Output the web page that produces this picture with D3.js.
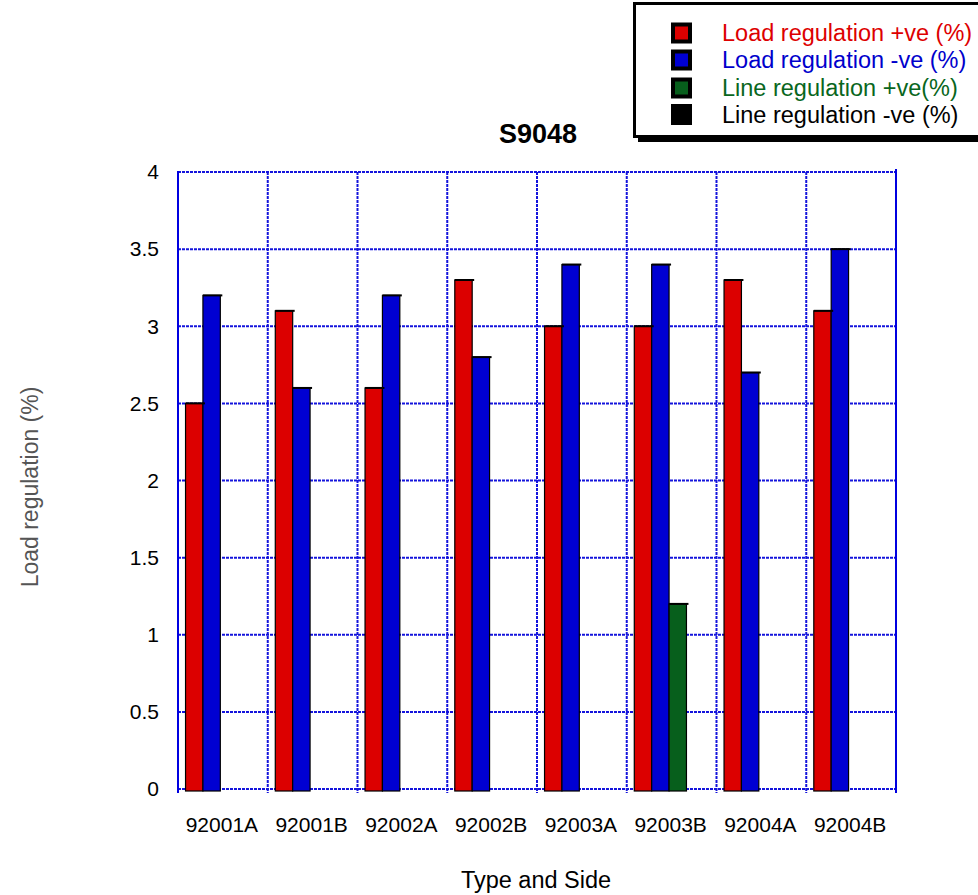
<!DOCTYPE html>
<html>
<head>
<meta charset="utf-8">
<script src="https://cdn.jsdelivr.net/npm/d3@7"></script>
<style>
  html, body { margin: 0; padding: 0; background: #fff; }
  svg { display: block; font-family: Arial, "Liberation Sans", sans-serif; }
</style>
</head>
<body>
<svg id="chart" width="978" height="895"></svg>
<script>
// ---- data ----
const categories = ["92001A", "92001B", "92002A", "92002B", "92003A", "92003B", "92004A", "92004B"];
const seriesNames = ["Load regulation +ve (%)", "Load regulation -ve (%)", "Line regulation +ve(%)", "Line regulation -ve (%)"];
const loadPos = [2.5, 3.1, 2.6, 3.3, 3.0, 3.0, 3.3, 3.1];
const loadNeg = [3.2, 2.6, 3.2, 2.8, 3.4, 3.4, 2.7, 3.5];
const linePos = [0, 0, 0, 0, 0, 1.2, 0, 0];
const lineNeg = [0, 0, 0, 0, 0, 0, 0, 0];
const yTicks = [0, 0.5, 1, 1.5, 2, 2.5, 3, 3.5, 4];
const yTickLabels = ["0", "0.5", "1", "1.5", "2", "2.5", "3", "3.5", "4"];
const barColors = ["#dc0000", "#0000d2", "#075f1c", "#000000"];
const textColors = ["#dd0000", "#0000cc", "#086620", "#000000"];
const chartTitle = "S9048";
const xTitle = "Type and Side";
const yTitle = "Load regulation (%)";

const series = [loadPos, loadNeg, linePos, lineNeg];

(function () {
// ---- layout ----
const svg = d3.select("#chart");
const pl = 178, pr = 896, pt = 172, pb = 789;

const x0 = d3.scaleBand().domain(categories).range([pl, pr]).padding(0);
const bw = x0.bandwidth();
const x1 = d3.scaleBand().domain(d3.range(series.length)).range([bw * 0.084, bw * 0.084 + bw * 0.775]).padding(0);
const y = d3.scaleLinear().domain([0, 4]).range([pb, pt]);

const gridColor = "#1414dc";

// horizontal gridlines
svg.append("g").selectAll("line").data(yTicks).join("line")
  .attr("x1", pl).attr("x2", pr + 2)
  .attr("y1", d => y(d)).attr("y2", d => y(d))
  .attr("stroke", gridColor).attr("stroke-width", 2)
  .attr("stroke-dasharray", "3,1");

// vertical gridlines
const vx = categories.map(c => x0(c));
svg.append("g").selectAll("line").data(vx.slice(1)).join("line")
  .attr("x1", d => d).attr("x2", d => d)
  .attr("y1", pt).attr("y2", pb + 4)
  .attr("stroke", gridColor).attr("stroke-width", 2)
  .attr("stroke-dasharray", "3,1");

// left and right frame
svg.append("line").attr("x1", pl).attr("x2", pl).attr("y1", pt - 1).attr("y2", pb + 4)
  .attr("stroke", "#0000e0").attr("stroke-width", 2);
svg.append("line").attr("x1", pr).attr("x2", pr).attr("y1", pt - 3).attr("y2", pb + 4)
  .attr("stroke", "#0000e0").attr("stroke-width", 2);

// bars
const barData = [];
categories.forEach((c, i) => {
  series.forEach((s, k) => {
    if (s[i] > 0) barData.push({ c, k, v: s[i] });
  });
});
const bars = svg.append("g");
bars.selectAll("rect").data(barData).join("rect")
  .attr("x", d => x0(d.c) + x1(d.k))
  .attr("y", d => y(d.v))
  .attr("width", x1.bandwidth())
  .attr("height", d => y(0) - y(d.v) + 2)
  .attr("fill", d => barColors[d.k])
  .attr("stroke", "#000").attr("stroke-width", 1.2);
bars.selectAll("line").data(barData).join("line")
  .attr("x1", d => x0(d.c) + x1(d.k))
  .attr("x2", d => x0(d.c) + x1(d.k) + x1.bandwidth() + 2)
  .attr("y1", d => y(d.v)).attr("y2", d => y(d.v))
  .attr("stroke", "#000").attr("stroke-width", 2);

// y tick labels
svg.append("g").selectAll("text").data(yTicks).join("text")
  .attr("x", 159).attr("y", d => y(d))
  .attr("dy", "0.35em")
  .attr("text-anchor", "end")
  .attr("font-size", 21)
  .attr("fill", "#000")
  .text((d, i) => yTickLabels[i]);

// x tick labels
svg.append("g").selectAll("text").data(categories).join("text")
  .attr("x", d => x0(d) + bw / 2 - 1)
  .attr("y", 832)
  .attr("text-anchor", "middle")
  .attr("font-size", 21)
  .attr("fill", "#000")
  .text(d => d);

// titles
svg.append("text").attr("x", 538).attr("y", 143).attr("text-anchor", "middle")
  .attr("font-size", 27).attr("font-weight", "bold").text(chartTitle);
svg.append("text").attr("x", 536).attr("y", 888).attr("text-anchor", "middle")
  .attr("font-size", 23.5).text(xTitle);
svg.append("text").attr("transform", "translate(38,487) rotate(-90)")
  .attr("text-anchor", "middle").attr("font-size", 23).attr("fill", "#555")
  .text(yTitle);

// legend
const lg = svg.append("g");
lg.append("rect").attr("x", 638).attr("y", 8).attr("width", 400).attr("height", 134).attr("fill", "#000");
lg.append("rect").attr("x", 634.5).attr("y", 3.5).attr("width", 400).attr("height", 133)
  .attr("fill", "#fff").attr("stroke", "#000").attr("stroke-width", 3);
const rowY = [33, 60, 88, 114.5];
seriesNames.forEach((name, k) => {
  lg.append("rect").attr("x", 671).attr("y", rowY[k] - 10.5).attr("width", 21).attr("height", 21).attr("fill", "#000");
  lg.append("rect").attr("x", 675).attr("y", rowY[k] - 6.5).attr("width", 13).attr("height", 13).attr("fill", barColors[k]);
  lg.append("text").attr("x", 722).attr("y", rowY[k]).attr("dy", "0.36em")
    .attr("font-size", 23.5).attr("fill", textColors[k]).text(name);
});
})();
</script>
</body>
</html>
